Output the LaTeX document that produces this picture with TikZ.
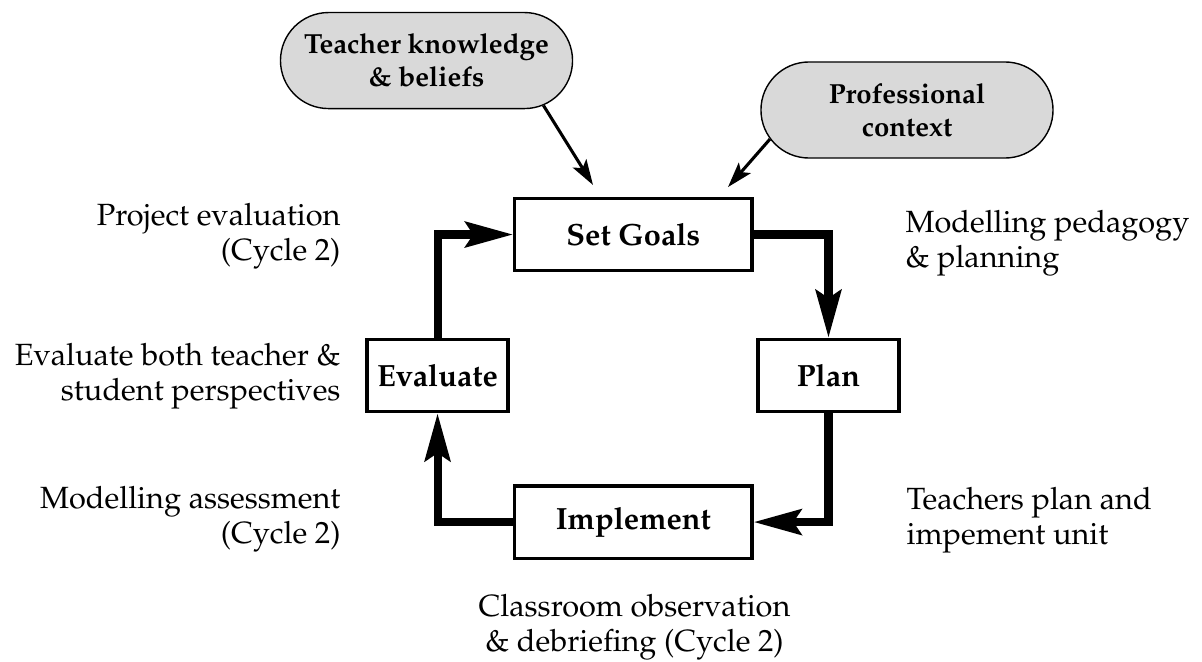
\documentclass[tikz,border=0pt]{standalone}
\usepackage[T1]{fontenc}
\usepackage{mathpazo}
\definecolor{cyc_gray}{RGB}{217, 217, 217}
\usetikzlibrary{arrows.meta, shapes.misc}

\begin{document}
\begin{tikzpicture}[font=\fontsize{11}{12.6}\selectfont,
          blk/.style={draw, line width=1.2pt, align=center, inner sep=0pt,
                      font=\fontsize{11}{13}\selectfont\bfseries,
                      minimum width=2.99cm, minimum height=0.91cm},
          pill/.style={draw, line width=0.5pt, fill=cyc_gray, rounded rectangle,
                      align=center, inner sep=0pt,
                      font=\fontsize{9.9}{11.9}\selectfont\bfseries,
                      minimum width=3.68cm, minimum height=1.21cm},
          lbl/.style={inner sep=0pt},
          arr/.style={-{Stealth[length=6mm, width=3.2mm, inset=1mm]}, line width=2.9pt},
          inarr/.style={-{Stealth[length=3.2mm, width=2mm, inset=0.7mm]}, line width=1.1pt}]
          \useasboundingbox (0, 0) rectangle (15.145, 8.329);
          \node[pill] (teacher) at (5.374, 7.566) {Teacher knowledge\\\& beliefs};
          \node[pill] (prof) at (11.428, 6.943) {Professional\\context};
          \node[blk] (goals) at (7.98, 5.374) {Set Goals};
          \node[blk, minimum width=1.777cm] (plan) at (10.439, 3.597) {Plan};
          \node[blk, minimum width=1.777cm] (eval) at (5.513, 3.597) {Evaluate};
          \node[blk] (impl) at (7.98, 1.751) {Implement};
          \coordinate (teacher_end) at (7.472, 5.998);
          \coordinate (prof_end) at (9.173, 5.972);
          \node[lbl, align=right, anchor=east] (projeval) at (4.297, 5.355)
            {Project evaluation\\(Cycle 2)};
          \node[lbl, align=right, anchor=east] (evalboth) at (4.297, 3.591)
            {Evaluate both teacher \&\\student perspectives};
          \node[lbl, align=right, anchor=east] (modassess) at (4.297, 1.783)
            {Modelling assessment\\(Cycle 2)};
          \node[lbl, align=left, anchor=west] (modped) at (11.403, 5.261)
            {Modelling pedagogy\\\& planning};
          \node[lbl, align=left, anchor=west] (teachplan) at (11.416, 1.777)
            {Teachers plan and\\impement unit};
          \node[lbl, align=center] (observe) at (7.995, 0.428)
            {Classroom observation\\\& debriefing (Cycle 2)};
          \draw[inarr] (teacher.-21) -- (teacher_end);
          \draw[inarr] (prof.192) -- (prof_end);
          \draw[arr] (goals.east) -| (plan.north);
          \draw[arr] (plan.south) |- (impl.east);
          \draw[arr] (impl.west) -| (eval.south);
          \draw[arr] (eval.north) |- (goals.west);
        \end{tikzpicture}
\end{document}
